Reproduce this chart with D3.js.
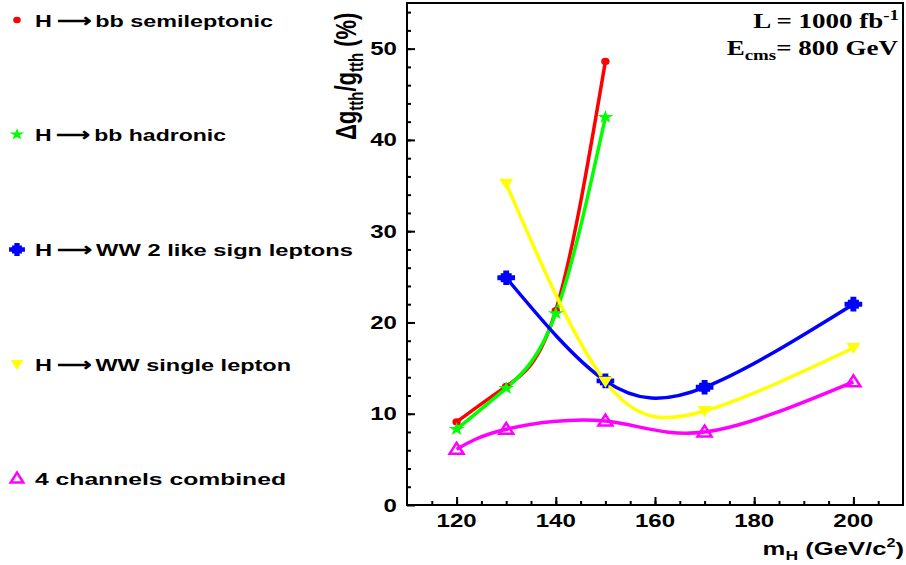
<!DOCTYPE html>
<html><head><meta charset="utf-8">
<script src="https://cdn.jsdelivr.net/npm/d3@7"></script>
<style>body{margin:0;background:#fff}svg{display:block}</style>
</head><body>
<svg id="c" width="906" height="565"></svg>
<script>
const semiX=[120,130,140,150], semiY=[9.1,13.0,21.3,48.6];
const hadX=[120,130,140,150], hadY=[8.3,12.8,21.0,42.5];
const ww2X=[130,150,170,200], ww2Y=[24.9,13.6,12.9,22.0];
const ww1X=[130,150,170,200], ww1Y=[35.2,13.5,10.3,17.2];
const combX=[120,130,150,170,200], combY=[6.1,8.3,9.2,8.0,13.5];
const xTicks=[120,140,160,180,200];
const yTicks=[0,10,20,30,40,50];
const legendLabels=["H\u2009\u27F6\u2009bb semileptonic","H\u2009\u27F6\u2009bb hadronic","H\u2009\u27F6\u2009WW 2 like sign leptons","H\u2009\u27F6\u2009WW single lepton","4 channels combined"];

const series=[
 {x:semiX,y:semiY,color:"#ff0000",marker:"circle"},
 {x:hadX,y:hadY,color:"#00ff00",marker:"star"},
 {x:ww2X,y:ww2Y,color:"#0000ff",marker:"square"},
 {x:ww1X,y:ww1Y,color:"#ffff00",marker:"tridown"},
 {x:combX,y:combY,color:"#ff00ff",marker:"triopen"}
];
// layout
const legendRowY=[26.5,141,256,371,485];
const legendTextWidth=[238,191,318,256,251];
const SX=1.35; // horizontal stretch of lettering

const svg=d3.select("#c");
const L=407,R=903,T=3,B=505;
const x=d3.scaleLinear().domain([110,210]).range([L,R]);
const y=d3.scaleLinear().domain([0,55]).range([B,T]);
const font="'Liberation Sans',Arial,sans-serif";
const serif="'Liberation Serif','Times New Roman',serif";

svg.append("rect").attr("x",L).attr("y",T).attr("width",R-L).attr("height",B-T)
 .attr("fill","none").attr("stroke","#000").attr("stroke-width",2);

function ticks(axis,tr,vals,size){
 const g=svg.append("g").attr("transform",tr);
 g.call(axis.tickValues(vals).tickSize(size).tickFormat(""));
 g.select(".domain").remove();
 g.selectAll(".tick line").attr("stroke","#000").attr("stroke-width",2);
}
ticks(d3.axisTop(x),`translate(0,${B})`,d3.range(115,210,5),4);
ticks(d3.axisTop(x),`translate(0,${B})`,xTicks,8);
ticks(d3.axisRight(y),`translate(${L},0)`,d3.range(2,55,2),4);
ticks(d3.axisRight(y),`translate(${L},0)`,yTicks,8);

// tick labels
svg.append("g").selectAll("text").data(xTicks).join("text")
 .attr("transform",d=>`translate(${x(d)},527) scale(1.3,1)`).attr("text-anchor","middle")
 .attr("font-family",font).attr("font-weight","bold").attr("font-size",18.5).text(d=>d);
svg.append("g").selectAll("text").data(yTicks).join("text")
 .attr("transform",d=>`translate(397,${y(d)+6.5}) scale(1.3,1)`).attr("text-anchor","end")
 .attr("font-family",font).attr("font-weight","bold").attr("font-size",18.5).text(d=>d);

// axis titles
const xt=svg.append("text").attr("transform",`translate(904,555) scale(${SX},1)`).attr("text-anchor","end")
 .attr("font-family",font).attr("font-weight","bold").attr("font-size",19);
xt.append("tspan").text("m");
xt.append("tspan").attr("font-size",13).attr("dy",5).text("H");
xt.append("tspan").attr("dy",-5).text(" (GeV/c");
xt.append("tspan").attr("font-size",12).attr("dy",-8).text("2");
xt.append("tspan").attr("dy",8).text(")");

const yt=svg.append("text").attr("transform",`translate(356,140) scale(${SX},1) rotate(-90)`)
 .attr("text-anchor","start").attr("font-family",font).attr("font-weight","bold").attr("font-size",22);
yt.append("tspan").text("\u0394g");
yt.append("tspan").attr("font-size",15).attr("dy",5).text("tth");
yt.append("tspan").attr("dy",-5).text("/g");
yt.append("tspan").attr("font-size",15).attr("dy",5).text("tth");
yt.append("tspan").attr("dy",-5).text(" (%)");

// top right text
const t1=svg.append("text").attr("transform",`translate(899,28) scale(${SX},1)`).attr("text-anchor","end")
 .attr("font-family",serif).attr("font-weight","bold").attr("font-size",20);
t1.append("tspan").text("L = 1000 fb");
t1.append("tspan").attr("font-size",14).attr("dy",-8).text("-1");
const t2=svg.append("text").attr("transform",`translate(898,55) scale(${SX},1)`).attr("text-anchor","end")
 .attr("font-family",serif).attr("font-weight","bold").attr("font-size",20);
t2.append("tspan").text("E");
t2.append("tspan").attr("font-size",14).attr("dy",5).text("cms");
t2.append("tspan").attr("dy",-5).text("= 800 GeV");

// curves
const line=d3.line().x(d=>x(d[0])).y(d=>y(d[1])).curve(d3.curveNatural);
const plot=svg.append("g");
series.forEach(s=>{
 const pts=s.x.map((v,i)=>[v,s.y[i]]);
 plot.append("path").attr("d",line(pts)).attr("fill","none").attr("stroke",s.color).attr("stroke-width",3.5);
});

function drawMarker(g,type,cx,cy,color,k){
 if(type==="circle") g.append("ellipse").attr("cx",cx).attr("cy",cy).attr("rx",4.2*k).attr("ry",3.6*k).attr("fill",color);
 else if(type==="star") g.append("path").attr("transform",`translate(${cx},${cy}) scale(1.2,1)`).attr("d",d3.symbol(d3.symbolStar,55*k*k)()).attr("fill",color);
 else if(type==="square") {
  g.append("rect").attr("x",cx-5.5*k).attr("y",cy-4.5*k).attr("width",11*k).attr("height",9*k).attr("fill",color);
  g.append("path").attr("transform",`translate(${cx},${cy}) scale(1.2,1)`).attr("d",d3.symbol(d3.symbolCross,120*k*k)()).attr("fill",color);
 }
 else if(type==="tridown") g.append("path").attr("transform",`translate(${cx},${cy})`).attr("d",`M${-7*k},${-5*k}L${7*k},${-5*k}L0,${6*k}Z`).attr("fill",color);
 else if(type==="triopen") g.append("path").attr("transform",`translate(${cx},${cy})`).attr("d",`M${-7*k},${4.5*k}L${7*k},${4.5*k}L0,${-6.5*k}Z`).attr("fill","none").attr("stroke",color).attr("stroke-width",2.5);
}
series.forEach(s=>{
 s.x.forEach((v,i)=>drawMarker(plot,s.marker,x(v),y(s.y[i]),s.color,1));
});

// legend
series.forEach((s,i)=>{
 drawMarker(svg,s.marker,17,legendRowY[i]-6.5,s.color,0.9);
 svg.append("text").attr("x",35).attr("y",legendRowY[i]).attr("font-family",font)
  .attr("font-weight","bold").attr("font-size",16.5)
  .attr("textLength",legendTextWidth[i]).attr("lengthAdjust","spacingAndGlyphs")
  .text(legendLabels[i]);
});
</script>
</body></html>
